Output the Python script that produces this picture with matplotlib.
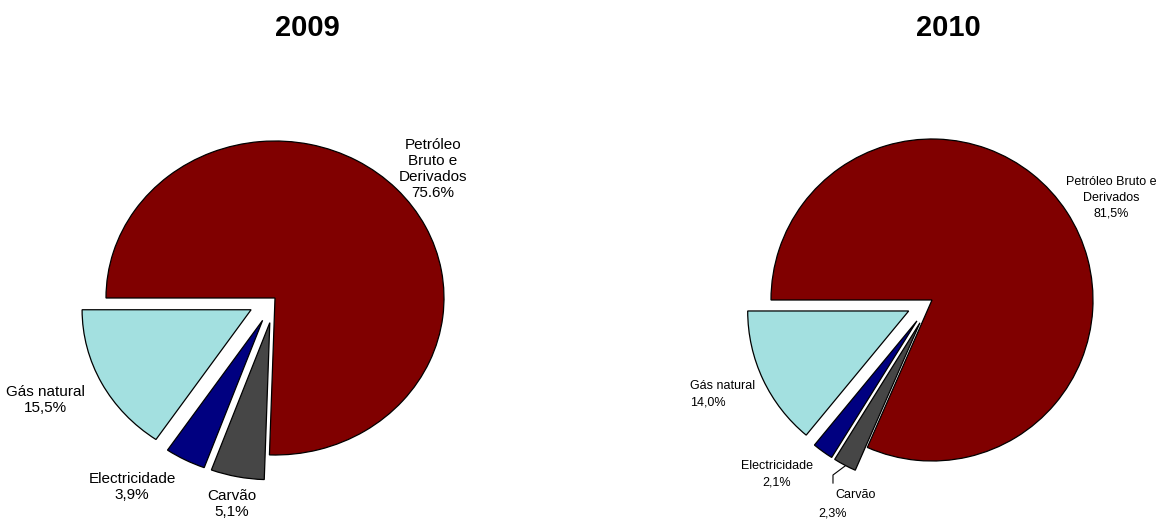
import matplotlib
matplotlib.use("Agg")
import matplotlib.pyplot as plt

plt.rcParams['font.family'] = ['Liberation Sans', 'DejaVu Sans']

# Energy sources, in clockwise order starting at 9 o'clock
sources = ["Petróleo Bruto e Derivados", "Carvão", "Electricidade", "Gás natural"]
shares_2009 = [75.6, 5.1, 3.9, 15.5]
shares_2010 = [81.5, 2.3, 2.1, 14.0]
dec_2009 = ['.', ',', ',', ',']
dec_2010 = [',', ',', ',', ',']

colors = ['#800000', '#464646', '#000080', '#A3E0E0']
explode = [0, 0.16, 0.16, 0.16]

W, H = 1160, 524
fig = plt.figure(figsize=(W / 100, H / 100), dpi=100, facecolor='white')


def pct(v, sep):
    return f"{v:.1f}%".replace('.', sep)


def make_axes(cx, cy, rx, ry, px0, px1):
    # axes spanning pixels px0..px1 horizontally, 60..H vertically,
    # scaled so the unit pie has radii rx, ry around pixel (cx, cy)
    ax = fig.add_axes([px0 / W, 0, (px1 - px0) / W, (H - 60) / H])
    return ax, ((px0 - cx) / rx, (px1 - cx) / rx), ((cy - H) / ry, (cy - 60) / ry)


def draw_pie(ax, xlim, ylim, shares):
    ax.pie(shares, colors=colors, explode=explode, startangle=180,
           counterclock=False, radius=1.0,
           wedgeprops=dict(edgecolor='black', linewidth=0.9))
    ax.set_aspect('auto')
    ax.set_xlim(*xlim)
    ax.set_ylim(*ylim)
    ax.set_axis_off()


# 2009
ax1, xl1, yl1 = make_axes(275, 298, 169, 157, 0, 570)
draw_pie(ax1, xl1, yl1, shares_2009)
fs1 = 11
ax1.text(0.935, 0.822, "Petróleo\nBruto e\nDerivados\n" + pct(shares_2009[0], dec_2009[0]),
         ha='center', va='center', fontsize=fs1, linespacing=1.2)
ax1.text(-1.361, -0.650, "Gás natural\n" + pct(shares_2009[3], dec_2009[3]),
         ha='center', va='center', fontsize=fs1, linespacing=1.2)
ax1.text(-0.846, -1.204, "Electricidade\n" + pct(shares_2009[2], dec_2009[2]),
         ha='center', va='center', fontsize=fs1, linespacing=1.2)
ax1.text(-0.254, -1.312, "Carvão\n" + pct(shares_2009[1], dec_2009[1]),
         ha='center', va='center', fontsize=fs1, linespacing=1.2)

# 2010
ax2, xl2, yl2 = make_axes(932, 300, 161, 161, 580, W)
draw_pie(ax2, xl2, yl2, shares_2010)
fs2 = 9
ax2.text(1.112, 0.634, "Petróleo Bruto e\nDerivados\n" + pct(shares_2010[0], dec_2010[0]),
         ha='center', va='center', fontsize=fs2, linespacing=1.45)
ax2.text(-1.503, -0.584, "Gás natural\n" + pct(shares_2010[3], dec_2010[3]),
         ha='left', va='center', fontsize=fs2, linespacing=1.45)
ax2.text(-0.963, -1.081, "Electricidade\n" + pct(shares_2010[2], dec_2010[2]),
         ha='center', va='center', fontsize=fs2, linespacing=1.45)
ax2.text(-0.472, -1.211, "Carvão", ha='center', va='center', fontsize=fs2)
ax2.text(-0.615, -1.323, pct(shares_2010[1], dec_2010[1]),
         ha='center', va='center', fontsize=fs2)
# leader line for the Carvão label
ax2.plot([-0.540, -0.615, -0.615], [-1.031, -1.087, -1.137],
         color='black', linewidth=0.8, clip_on=False)

fig.text(307 / W, 1 - 28 / H, "2009", ha='center', va='center',
         fontsize=21, fontweight='bold')
fig.text(948 / W, 1 - 28 / H, "2010", ha='center', va='center',
         fontsize=21, fontweight='bold')

fig.savefig("out.png", dpi=100, facecolor='white')
